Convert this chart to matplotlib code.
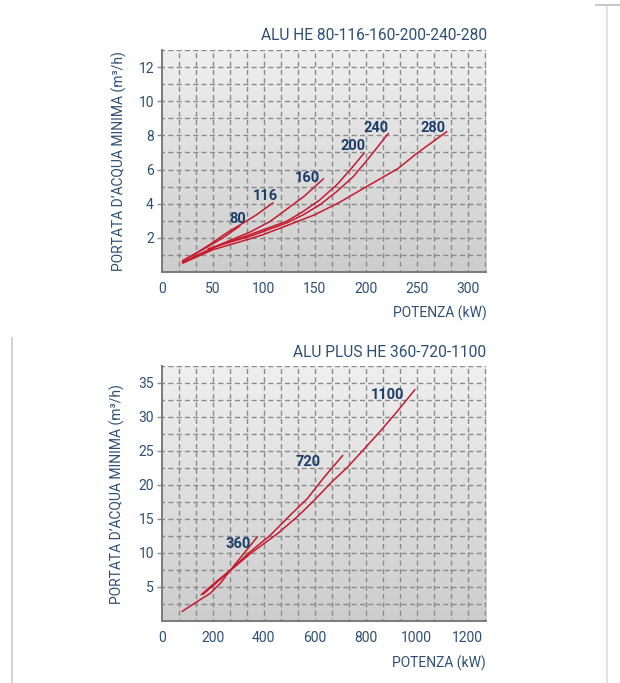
import numpy as np
import matplotlib
matplotlib.use('Agg')
import matplotlib.pyplot as plt
from matplotlib.colors import LinearSegmentedColormap
from matplotlib.lines import Line2D

plt.rcParams['font.family'] = ['Roboto', 'DejaVu Sans']

# ---------------- data: ALU HE 80-116-160-200-240-280 ----------------
he80_x = [20, 40, 60, 77]
he80_y = [0.65, 1.30, 2.00, 2.71]
he116_x = [20, 47, 64, 80, 93, 109.5]
he116_y = [0.60, 1.60, 2.30, 2.87, 3.35, 4.07]
he160_x = [20, 55, 87, 106, 122, 140, 159]
he160_y = [0.55, 1.55, 2.35, 2.95, 3.65, 4.45, 5.48]
he200_x = [30, 54, 87, 122.5, 138.8, 155.2, 171.6, 184.6, 198.7]
he200_y = [0.85, 1.50, 2.20, 2.97, 3.55, 4.23, 5.10, 5.97, 6.98]
he240_x = [45, 54, 87, 122.5, 138.8, 155.2, 171.6, 187.8, 204, 222.5]
he240_y = [1.35, 1.52, 2.10, 2.87, 3.35, 3.94, 4.71, 5.58, 6.74, 8.14]
he280_x = [20, 50, 87, 100, 122, 150, 175, 198, 214, 232, 250, 280]
he280_y = [0.50, 1.30, 1.95, 2.20, 2.70, 3.35, 4.10, 4.90, 5.45, 6.07, 6.94, 8.24]
he_names = ['80', '116', '160', '200', '240', '280']
he_label_x = [75, 102, 142.7, 188, 210, 266]
he_label_y = [3.1, 4.46, 5.49, 7.38, 8.45, 8.45]
he_xticks = [0, 50, 100, 150, 200, 250, 300]
he_yticks = [2, 4, 6, 8, 10, 12]

# ---------------- data: ALU PLUS HE 360-720-1100 ----------------
p360_x = [78.7, 137.8, 190, 229.5, 269, 376.5]
p360_y = [1.34, 2.80, 4.03, 5.50, 7.45, 12.43]
p720_x = [153, 210, 269, 348, 426, 505, 571, 636, 711]
p720_y = [3.78, 5.65, 7.45, 10.2, 12.6, 15.6, 18.0, 21.1, 24.4]
p1100_x = [160, 210, 269, 348, 453, 531, 597, 663, 728, 794, 859, 925, 994]
p1100_y = [3.85, 5.45, 7.40, 9.9, 12.8, 15.3, 17.7, 20.3, 22.6, 25.3, 28.0, 30.9, 34.1]
p_names = ['360', '720', '1100']
p_label_x = [300, 575, 885]
p_label_y = [11.3, 23.3, 33.2]
p_xticks = [0, 200, 400, 600, 800, 1000, 1200]
p_yticks = [5, 10, 15, 20, 25, 30, 35]

TXT = '#2d4f75'
LAB = '#1d3f6a'
RED = '#c8192e'
GRID = '#8a8a8a'

W, H = 620, 683
fig = plt.figure(figsize=(W / 100, H / 100), dpi=100)
fig.patch.set_facecolor('white')

grad = LinearSegmentedColormap.from_list('g', ['#cdcdcd', '#efefef'])


def make_axes(rect, xlim, ylim, gx, gy, xticks, yticks):
    ax = fig.add_axes(rect)
    ax.imshow(np.linspace(0, 1, 256).reshape(-1, 1), cmap=grad, origin='lower',
              extent=[0, 1, 0, 1], transform=ax.transAxes, aspect='auto', zorder=0)
    ax.set_xlim(*xlim)
    ax.set_ylim(*ylim)
    ls = (1.8, (3.6, 2.4))
    for v in np.arange(gx, xlim[1] + 1e-6, gx):
        ax.axvline(v, color=GRID, lw=1.0, ls=ls, zorder=1)
    for v in np.arange(gy, ylim[1] + 1e-6, gy):
        ax.axhline(v, color=GRID, lw=1.0, ls=ls, zorder=1)
    for s in ['top', 'right']:
        ax.spines[s].set_visible(False)
    for s in ['left', 'bottom']:
        ax.spines[s].set_color('#7a7a7a')
        ax.spines[s].set_linewidth(1.4)
        ax.spines[s].set_zorder(3)
    ax.set_xticks(xticks)
    ax.set_yticks(yticks)
    ax.tick_params(axis='x', length=0, pad=7.5, labelsize=10, labelcolor=TXT)
    ax.tick_params(axis='y', length=3.3, width=1, color=GRID, pad=2.3,
                   labelsize=10, labelcolor=TXT)
    return ax


# top chart
ax1 = make_axes([161.7 / W, 1 - 272 / H, 324.3 / W, 222 / H],
                (0, 318), (0, 13), 50 / 3, 1, he_xticks, he_yticks)
for xs, ys in [(he80_x, he80_y), (he116_x, he116_y), (he160_x, he160_y),
               (he200_x, he200_y), (he240_x, he240_y), (he280_x, he280_y)]:
    ax1.plot(xs, ys, color=RED, lw=1.1, zorder=4, solid_capstyle='butt',
             solid_joinstyle='round')
for n, lx, ly in zip(he_names, he_label_x, he_label_y):
    ax1.text(lx, ly, n, color=LAB, fontsize=10.5, fontweight='bold',
             ha='center', va='center', zorder=5)

# bottom chart
ax2 = make_axes([161.7 / W, 1 - 620.8 / H, 324 / W, 254.8 / H],
                (0, 1270), (0, 37.5), 200 / 3, 2.5, p_xticks, p_yticks)
for xs, ys in [(p360_x, p360_y), (p720_x, p720_y), (p1100_x, p1100_y)]:
    ax2.plot(xs, ys, color=RED, lw=1.1, zorder=4, solid_capstyle='butt',
             solid_joinstyle='round')
for n, lx, ly in zip(p_names, p_label_x, p_label_y):
    ax2.text(lx, ly, n, color=LAB, fontsize=10.5, fontweight='bold',
             ha='center', va='center', zorder=5)


def ftext(x, y, s, **kw):
    fig.text(x / W, 1 - y / H, s, color=TXT, **kw)


ftext(487, 36, 'ALU HE 80-116-160-200-240-280', ha='right', va='center', fontsize=11.2)
ftext(487, 313, 'POTENZA (kW)', ha='right', va='center', fontsize=10)
ftext(119, 161.5, 'PORTATA D\u2019ACQUA MINIMA (m\u00b3/h)', ha='center', va='center',
      rotation=90, fontsize=10)
ftext(486, 352.5, 'ALU PLUS HE 360-720-1100', ha='right', va='center', fontsize=11.2)
ftext(486, 663, 'POTENZA (kW)', ha='right', va='center', fontsize=10)
ftext(117.5, 494, 'PORTATA D\u2019ACQUA MINIMA (m\u00b3/h)', ha='center', va='center',
      rotation=90, fontsize=10)

# decorative page borders
fig.add_artist(Line2D([607 / W, 607 / W], [0, 1 - 5 / H], transform=fig.transFigure,
                      color='#dcdce2', lw=1.2))
fig.add_artist(Line2D([596 / W, 1], [1 - 5 / H, 1 - 5 / H], transform=fig.transFigure,
                      color='#c8c8d0', lw=1.5))
fig.add_artist(Line2D([12.3 / W, 12.3 / W], [0, 1 - 338 / H], transform=fig.transFigure,
                      color='#d2d2da', lw=1.5))

fig.savefig('out.png', dpi=100, facecolor='white')
